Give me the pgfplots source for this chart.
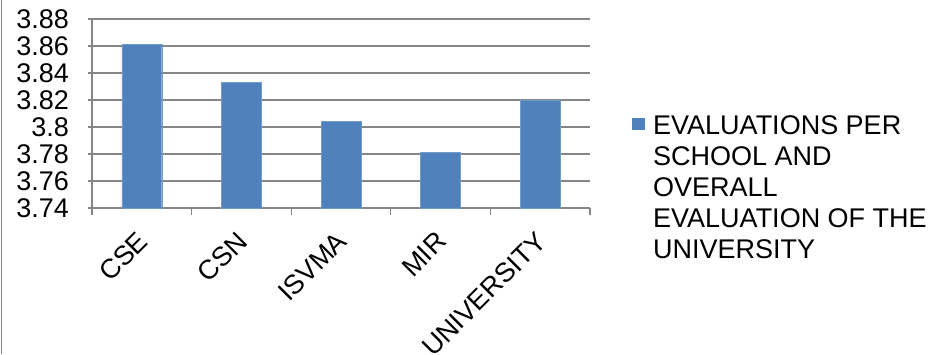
\documentclass[border=0pt]{standalone}
\usepackage{pgfplots}
\pgfplotsset{compat=1.18}
\usepackage{fontspec}
\setmainfont{Liberation Sans}
\definecolor{barblue}{HTML}{4F81BD}
\definecolor{gridgray}{HTML}{868686}
\begin{document}
\begin{tikzpicture}[x=1pt,y=1pt]
\useasboundingbox (0,0) rectangle (930,354);
\draw[gridgray, line width=1.5pt] (1.5,0) -- (1.5,354);
\begin{axis}[
  at={(92pt,146pt)}, anchor=south west,
  scale only axis, width=498pt, height=189pt,
  ymin=3.74, ymax=3.88,
  ytick={3.74,3.76,...,3.88},
  yticklabels={3.74,3.76,3.78,3.8,3.82,3.84,3.86,3.88},
  xmin=0.5, xmax=5.5,
  xtick={1,2,3,4,5},
  xticklabels={CSE,CSN,ISVMA,MIR,UNIVERSITY},
  minor xtick={0.5,1.5,...,5.5},
  major x tick style={draw=none},
  minor tick length=7pt,
  major tick length=9pt,
  tick align=outside,
  tick style={gridgray, line width=1.2pt},
  axis lines=left,
  axis line style={-, gridgray, line width=1.5pt},
  ymajorgrids,
  grid style={gridgray, line width=1.5pt},
  ticklabel style={font=\fontsize{27}{27}\selectfont},
  yticklabel style={xshift=-15pt},
  xticklabel style={rotate=45, anchor=north east, inner sep=2pt, xshift=-11pt, yshift=-3pt},
  ybar, bar width=0.4,
  /pgf/number format/assume math mode=true,
]
\addplot[fill=barblue, draw=barblue!80!white] coordinates {(1,3.861) (2,3.833) (3,3.804) (4,3.781) (5,3.820)};
\end{axis}
\fill[barblue] (632,224) rectangle (645,236);
\node[anchor=north west, align=left, inner sep=0pt, font=\fontsize{27}{31}\selectfont] at (653,239)
 {EVALUATIONS PER\\SCHOOL AND\\OVERALL\\EVALUATION OF THE\\UNIVERSITY};
\end{tikzpicture}
\end{document}
